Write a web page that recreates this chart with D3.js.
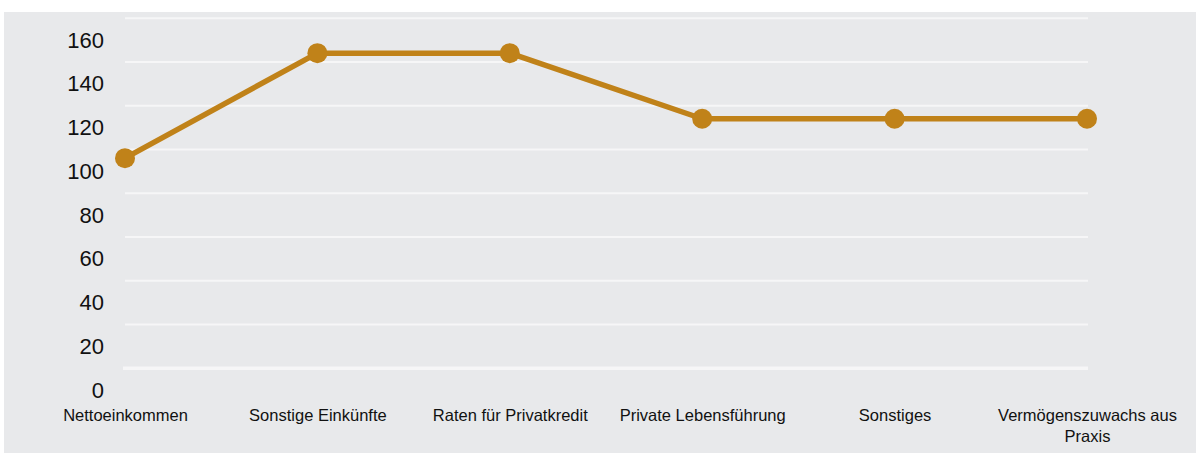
<!DOCTYPE html>
<html>
<head>
<meta charset="utf-8">
<script src="https://cdn.jsdelivr.net/npm/d3@7"></script>
<style>
  html, body { margin: 0; padding: 0; background: #ffffff; }
  svg { display: block; }
</style>
</head>
<body>
<svg id="chart" width="1196" height="455"></svg>
<script>
const categories = ["Nettoeinkommen", "Sonstige Einkünfte", "Raten für Privatkredit", "Private Lebensführung", "Sonstiges", "Vermögenszuwachs aus Praxis"];
const values = [106, 154, 154, 124, 124, 124];
const yTicks = [0, 20, 40, 60, 80, 100, 120, 140, 160];
const gridValues = [10, 30, 50, 70, 90, 110, 130, 150, 170];

const W = 1196, H = 455;
const svg = d3.select("#chart");
const color = "#c08219";

svg.append("rect")
  .attr("x", 4).attr("y", 12)
  .attr("width", W - 4).attr("height", 441)
  .attr("fill", "#e8e9eb");

const x = d3.scalePoint().domain(categories).range([125, 1087]);
const y = d3.scaleLinear().domain([0, 160]).range([390, 40]);

// gridlines
svg.append("g").selectAll("line")
  .data(gridValues)
  .join("line")
  .attr("x1", (d, i) => i === 0 ? 123 : 125)
  .attr("x2", 1088)
  .attr("y1", d => y(d)).attr("y2", d => y(d))
  .attr("stroke", "#f6f6f7")
  .attr("stroke-width", (d, i) => i === 0 ? 3.5 : 2);

// y axis labels
const yAxis = d3.axisLeft(y).tickValues(yTicks).tickSize(0).tickPadding(0);
const gy = svg.append("g").attr("transform", "translate(104,0)").call(yAxis);
gy.select(".domain").remove();
gy.selectAll("text")
  .attr("font-family", "Liberation Sans, Arial, sans-serif")
  .attr("font-size", 22)
  .attr("fill", "#111");

// x axis labels
const xAxis = d3.axisBottom(x).tickSize(0).tickPadding(0);
const gx = svg.append("g").attr("transform", "translate(0,405)").call(xAxis);
gx.select(".domain").remove();
gx.selectAll("text")
  .attr("font-family", "Liberation Sans, Arial, sans-serif")
  .attr("font-size", 16.5)
  .attr("fill", "#111")
  .attr("dy", null)
  .attr("y", 0)
  .each(function(d) {
    const t = d3.select(this);
    const words = d.split(" ");
    t.text(null);
    let line = [];
    let lineNo = 0;
    let tspan = t.append("tspan").attr("x", 0).attr("y", 16);
    for (const w of words) {
      line.push(w);
      tspan.text(line.join(" "));
      if (tspan.node().getComputedTextLength() > 185 && line.length > 1) {
        line.pop();
        tspan.text(line.join(" "));
        line = [w];
        lineNo++;
        tspan = t.append("tspan").attr("x", 0).attr("y", 16 + lineNo * 21).text(w);
      }
    }
  });

// line
const lineGen = d3.line().x((d, i) => x(categories[i])).y(d => y(d));
svg.append("path")
  .datum(values)
  .attr("d", lineGen)
  .attr("fill", "none")
  .attr("stroke", color)
  .attr("stroke-width", 5.5)
  .attr("stroke-linejoin", "round");

svg.append("g").selectAll("circle")
  .data(values)
  .join("circle")
  .attr("cx", (d, i) => x(categories[i]))
  .attr("cy", d => y(d))
  .attr("r", 10)
  .attr("fill", color);
</script>
</body>
</html>
